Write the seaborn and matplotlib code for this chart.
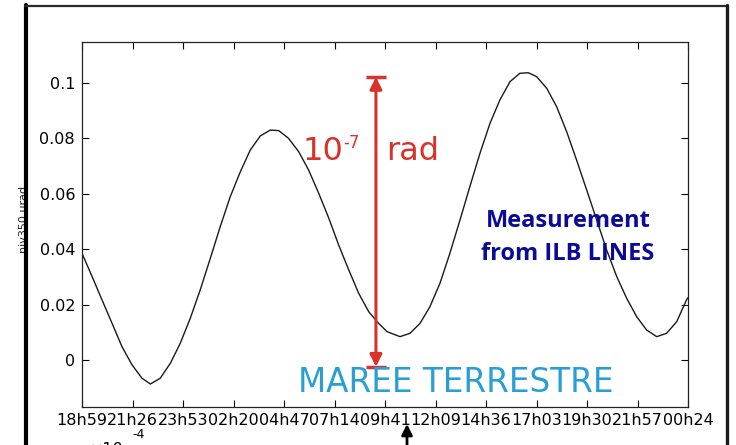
import matplotlib
matplotlib.use("Agg")
import matplotlib.pyplot as plt
from matplotlib.lines import Line2D
import pandas as pd
import seaborn as sns

# Tilt record of sensor niv350 (hours elapsed since 18h59, value in µrad)
elapsed_h = [0.00, 0.49, 0.97, 1.46, 1.94, 2.43, 2.91, 3.32, 3.80, 4.29,
             4.77, 5.26, 5.74, 6.23, 6.71, 7.20, 7.69, 8.17, 8.66, 9.14,
             9.55, 10.03, 10.52, 11.00, 11.49, 11.98, 12.46, 12.95, 13.43, 13.92,
             14.40, 14.81, 15.44, 15.92, 16.41, 16.89, 17.38, 17.86, 18.35, 18.83,
             19.32, 19.81, 20.29, 20.78, 21.26, 21.67, 22.07, 22.56, 23.04, 23.53,
             24.01, 24.50, 24.99, 25.47, 25.96, 26.44, 26.93, 27.41, 27.90, 28.38,
             28.87, 29.35, 29.42]
tilt_urad = [0.0385, 0.0301, 0.0217, 0.0132, 0.0048, -0.0018, -0.0066, -0.0087, -0.0066, -0.0012,
             0.0060, 0.0151, 0.0253, 0.0367, 0.0481, 0.0590, 0.0680, 0.0758, 0.0809, 0.0830,
             0.0828, 0.0800, 0.0752, 0.0686, 0.0602, 0.0512, 0.0415, 0.0325, 0.0241, 0.0174,
             0.0132, 0.0102, 0.0084, 0.0096, 0.0132, 0.0192, 0.0277, 0.0385, 0.0505, 0.0626,
             0.0746, 0.0855, 0.0939, 0.1005, 0.1035, 0.1037, 0.1023, 0.0981, 0.0915, 0.0824,
             0.0722, 0.0614, 0.0505, 0.0397, 0.0301, 0.0223, 0.0156, 0.0108, 0.0084, 0.0096,
             0.0138, 0.0217, 0.0225]

time_labels = ["18h59", "21h26", "23h53", "02h20", "04h47", "07h14", "09h41",
               "12h09", "14h36", "17h03", "19h30", "21h57", "00h24"]
y_ticks = [0, 0.02, 0.04, 0.06, 0.08, 0.1]
y_tick_labels = ["0", "0.02", "0.04", "0.06", "0.08", "0.1"]

# Scale bar: 10^-7 rad
scale_x = 14.27
scale_bottom = -0.0025
scale_top = 0.1022

span_h = elapsed_h[-1]
tick_pos = [i * span_h / (len(time_labels) - 1) for i in range(len(time_labels))]

df = pd.DataFrame({"elapsed_h": elapsed_h, "tilt": tilt_urad})

sns.set_style("ticks")
plt.rcParams["font.family"] = ["DejaVu Sans"]

W, H = 736, 445
fig = plt.figure(figsize=(W / 100, H / 100), dpi=100)
ax = fig.add_axes([82 / W, 1 - 407 / H, 606 / W, 365 / H])

sns.lineplot(data=df, x="elapsed_h", y="tilt", color="#1a1a1a", lw=1.0, ax=ax)

ax.set_xlim(0, span_h)
ax.set_ylim(-0.017, 0.1148)
ax.set_xticks(tick_pos, time_labels)
ax.set_yticks(y_ticks, y_tick_labels)
ax.tick_params(direction="in", top=True, right=True, length=5, width=0.8,
               labelsize=11.5, colors="black")
ax.tick_params(axis="x", pad=4)
ax.tick_params(axis="y", pad=5)
for sp in ax.spines.values():
    sp.set_visible(True)
    sp.set_linewidth(0.9)
    sp.set_color("#222222")
ax.set_xlabel("")
ax.set_ylabel("niv350 µrad", fontsize=8)
ax.yaxis.set_label_coords(-0.088, 0.515)

# Red scale bar with end caps
red = "#d8322b"
ax.annotate("", xy=(scale_x, scale_top), xytext=(scale_x, scale_bottom),
            arrowprops=dict(arrowstyle="<|-|>", color=red, lw=2.2,
                            mutation_scale=18, shrinkA=0, shrinkB=0))
cap_half = 0.48
ax.hlines([scale_top, scale_bottom], scale_x - cap_half, scale_x + cap_half,
          color=red, lw=2.5)


def axfrac(px, py):
    return (px - 82) / 606, (407 - py) / 365


fx, fy = axfrac(343, 160)
ax.text(fx, fy, "10", transform=ax.transAxes, ha="right", va="baseline",
        color=red, fontsize=23)
fx, fy = axfrac(343, 148)
ax.text(fx, fy, "-7", transform=ax.transAxes, ha="left", va="baseline",
        color=red, fontsize=12)
fx, fy = axfrac(386, 160)
ax.text(fx, fy, "rad", transform=ax.transAxes, ha="left", va="baseline",
        color=red, fontsize=23)

# Blue caption
blue = "#0b0b98"
fx, fy = axfrac(568, 227)
ax.text(fx, fy, "Measurement", transform=ax.transAxes, ha="center", va="baseline",
        color=blue, fontsize=17, fontweight="bold", family=["Open Sans", "DejaVu Sans"])
fx, fy = axfrac(568, 260)
ax.text(fx, fy, "from ILB LINES", transform=ax.transAxes, ha="center", va="baseline",
        color=blue, fontsize=17, fontweight="bold", family=["Open Sans", "DejaVu Sans"])

# Earth tide title
fx, fy = axfrac(456, 392)
ax.text(fx, fy, "MAREE TERRESTRE", transform=ax.transAxes, ha="center", va="baseline",
        color="#2a9fd6", fontsize=23.5)

# Exponent of the panel below
fig.text(90 / W, 1 - 454 / H, "×10", fontsize=11.5, color="black", ha="left", va="baseline")
fig.text(132 / W, 1 - 438 / H, "-4", fontsize=9, color="black", ha="left", va="baseline")

# Pointer arrow
ax.annotate("", xy=(407, H - 424), xycoords="figure pixels",
            xytext=(407, -10), textcoords="figure pixels",
            arrowprops=dict(arrowstyle="-|>", color="black", lw=2.0,
                            mutation_scale=16, shrinkA=0, shrinkB=0),
            annotation_clip=False)

# Outer frame
fig.add_artist(Line2D([26 / W, 26 / W], [0, 1 - 5 / H], transform=fig.transFigure,
                      color="black", lw=3.0))
fig.add_artist(Line2D([25 / W, 728 / W], [1 - 6 / H, 1 - 6 / H], transform=fig.transFigure,
                      color="#2a2a2a", lw=1.6))
fig.add_artist(Line2D([726.5 / W, 726.5 / W], [0, 1 - 5 / H], transform=fig.transFigure,
                      color="#1a1a1a", lw=2.4))

fig.savefig("out.png", dpi=100, facecolor="white")
